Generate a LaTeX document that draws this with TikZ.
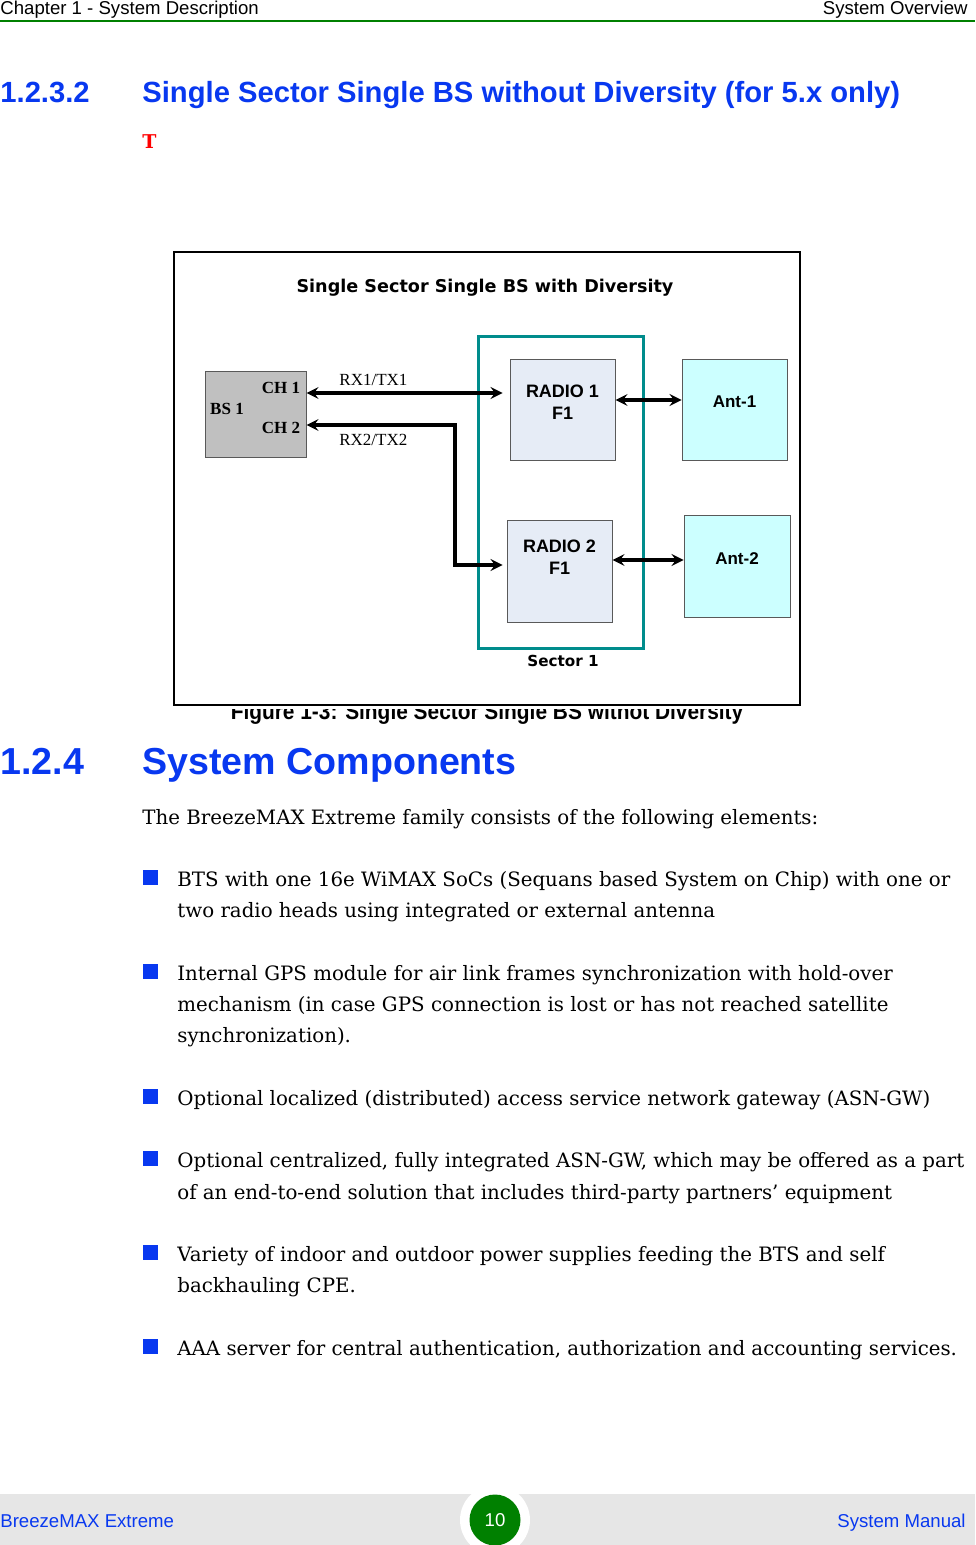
\documentclass[tikz,border=0pt]{standalone}
\usepackage{fontspec}
\setmainfont{DejaVu Serif}
\newfontfamily\arialfont{Liberation Sans}
\newfontfamily\timesfont{Liberation Serif}
\newfontfamily\tahomafont{DejaVu Sans}
\usetikzlibrary{arrows,positioning}
\definecolor{headblue}{RGB}{8,56,240}
\definecolor{rulegreen}{RGB}{0,128,0}
\definecolor{sectorteal}{RGB}{0,140,140}
\definecolor{radiofill}{RGB}{230,236,246}
\definecolor{antfill}{RGB}{204,255,255}
\definecolor{bsfill}{RGB}{192,192,192}
\definecolor{footgray}{RGB}{230,230,230}
\tikzstyle{link} = [line width=1.6pt,<->,>=stealth]
\tikzstyle{unit} = [draw=black!65, line width=0.5pt, inner sep=0pt]
\tikzstyle{boxtext} = [inner sep=0pt, align=center, font=\arialfont\bfseries\fontsize{9pt}{11pt}\selectfont]
\tikzstyle{bstext} = [inner sep=0pt, font=\timesfont\bfseries\fontsize{8.5pt}{10pt}\selectfont]
\tikzstyle{rxtext} = [inner sep=0pt, font=\timesfont\fontsize{8.5pt}{10pt}\selectfont]
\tikzstyle{body} = [anchor=base west, inner sep=0pt, font=\fontsize{9.9pt}{12pt}\selectfont]
\tikzstyle{pagetext} = [inner sep=0pt, font=\arialfont\fontsize{9.3pt}{11pt}\selectfont]

\begin{document}
\begin{tikzpicture}[x=0.5pt,y=-0.5pt]
    \useasboundingbox (0,0) rectangle (975,1545);
    % page header
    \node (headl) [pagetext, anchor=base west] at (0,15)   {Chapter 1 - System Description};
    \node (headr) [pagetext, anchor=base east] at (968,15) {System Overview};
    \draw [rulegreen, line width=1pt] (0,21) -- (975,21);

    \node (secnum) [anchor=base west, inner sep=0pt, text=headblue, font=\arialfont\bfseries\fontsize{14.6pt}{17pt}\selectfont] at (0,103)   {1.2.3.2};
    \node (sectitle) [anchor=base west, inner sep=0pt, text=headblue, font=\arialfont\bfseries\fontsize{14.6pt}{17pt}\selectfont] at (142,103) {Single Sector Single BS without Diversity (for 5.x only)};
    \node (redt) [anchor=base west, inner sep=0pt, text=red, font=\bfseries\fontsize{9.5pt}{11pt}\selectfont] at (142,149) {T};

    % caption, partly under the figure
    \node (caption) [anchor=base, inner sep=0pt, xscale=0.9, font=\arialfont\bfseries\fontsize{11.6pt}{13pt}\selectfont] at (487,719) {Figure 1-3: Single Sector Single BS withot Diversity};

    % figure
    \fill [white] (172,250) rectangle (802,709);
    \draw [line width=1pt] (174,252) rectangle (800,705);
    \node (title) [inner sep=0pt, font=\tahomafont\bfseries\fontsize{8.8pt}{10pt}\selectfont] at (485,288) {Single Sector Single BS with Diversity};

    \node (sector) [draw=sectorteal, line width=1.5pt, minimum width=82.5pt, minimum height=155.5pt] at (560.5,492.5) {};
    \node (sectlbl) [inner sep=0pt, font=\tahomafont\bfseries\fontsize{7.6pt}{9pt}\selectfont] at (563,661) {Sector 1};

    \node (bs) [unit, fill=bsfill, minimum width=50.5pt, minimum height=42.5pt] at (255.5,414.5) {};
    \node (bslbl) [bstext] at (227,409) {BS 1};
    \node (ch1)   [bstext] at (281,388) {CH 1};
    \node (ch2)   [bstext] at (281,428) {CH 2};

    \node (radio1) [unit, fill=radiofill, minimum width=52.5pt, minimum height=50pt] at (562.5,410) {};
    \node (radio2) [unit, fill=radiofill, minimum width=52.5pt, minimum height=51pt, node distance=80.5pt, below of=radio1, xshift=-1.5pt] {};
    \node (ant1)   [unit, fill=antfill, minimum width=52.5pt, minimum height=50pt, node distance=86pt, right of=radio1] {};
    \node (ant2)   [unit, fill=antfill, minimum width=53pt, minimum height=51pt, node distance=78pt, below of=ant1, xshift=1.25pt] {};

    \node (r1lbl) [boxtext] at ([yshift=4pt]radio1) {RADIO 1\\F1};
    \node (r2lbl) [boxtext] at ([yshift=7pt]radio2) {RADIO 2\\F1};
    \node (a1lbl) [boxtext, font=\arialfont\bfseries\fontsize{8.5pt}{10pt}\selectfont] at ([yshift=4pt]ant1) {Ant-1};
    \node (a2lbl) [boxtext, font=\arialfont\bfseries\fontsize{8.5pt}{10pt}\selectfont] at ([yshift=3.5pt]ant2) {Ant-2};

    \draw [link, shorten >=3.5pt] (bs.east |- 0,393) -- (radio1.west |- 0,393) node[pos=0.33, above=3pt, rxtext] {RX1/TX1};
    \draw [link, shorten >=2pt] (bs.east |- 0,425) -- node[pos=0.45, below=4pt, rxtext] {RX2/TX2} (455,425) |- (radio2.west |- 0,565);
    \draw [link] ([yshift=5pt]radio1.east) -- ([yshift=5pt]radio1.east -| ant1.west);
    \draw [link] ([yshift=5.5pt]radio2.east) -- ([yshift=5.5pt]radio2.east -| ant2.west);

    % section 1.2.4
    \node (compnum) [anchor=base west, inner sep=0pt, text=headblue, font=\arialfont\bfseries\fontsize{18.8pt}{21pt}\selectfont] at (0,774)   {1.2.4};
    \node (comptitle) [anchor=base west, inner sep=0pt, text=headblue, font=\arialfont\bfseries\fontsize{18.8pt}{21pt}\selectfont] at (142,774) {System Components};

    \node (intro) [body] at (142,824) {The BreezeMAX Extreme family consists of the following elements:};
    \foreach \b in {886,980,1105,1167,1261,1355}
        \fill [headblue] (143,\b-16) rectangle (158,\b-1);
    \node (l1a) [body] at (177,886)  {BTS with one 16e WiMAX SoCs (Sequans based System on Chip) with one or};
    \node (l1b) [body] at (177,917)  {two radio heads using integrated or external antenna};
    \node (l2a) [body] at (177,980)  {Internal GPS module for air link frames synchronization with hold-over};
    \node (l2b) [body] at (177,1011) {mechanism (in case GPS connection is lost or has not reached satellite};
    \node (l2c) [body] at (177,1042) {synchronization).};
    \node (l3a) [body] at (177,1105) {Optional localized (distributed) access service network gateway (ASN-GW)};
    \node (l4a) [body] at (177,1167) {Optional centralized, fully integrated ASN-GW, which may be offered as a part};
    \node (l4b) [body] at (177,1199) {of an end-to-end solution that includes third-party partners' equipment};
    \node (l5a) [body] at (177,1261) {Variety of indoor and outdoor power supplies feeding the BTS and self};
    \node (l5b) [body] at (177,1292) {backhauling CPE.};
    \node (l6a) [body] at (177,1355) {AAA server for central authentication, authorization and accounting services.};

    % footer
    \fill [footgray] (0,1494) rectangle (975,1545);
    \fill [white] (495,1520) circle (17.5pt);
    \node (pagenum) [circle, fill=rulegreen, minimum size=25.5pt, inner sep=0pt, text=white, font=\arialfont\fontsize{9.3pt}{11pt}\selectfont] at (495,1520) {10};
    \node (footl) [pagetext, anchor=base west, text=headblue] at (0,1527)   {BreezeMAX Extreme};
    \node (footr) [pagetext, anchor=base east, text=headblue] at (966,1527) {System Manual};
\end{tikzpicture}
\end{document}
